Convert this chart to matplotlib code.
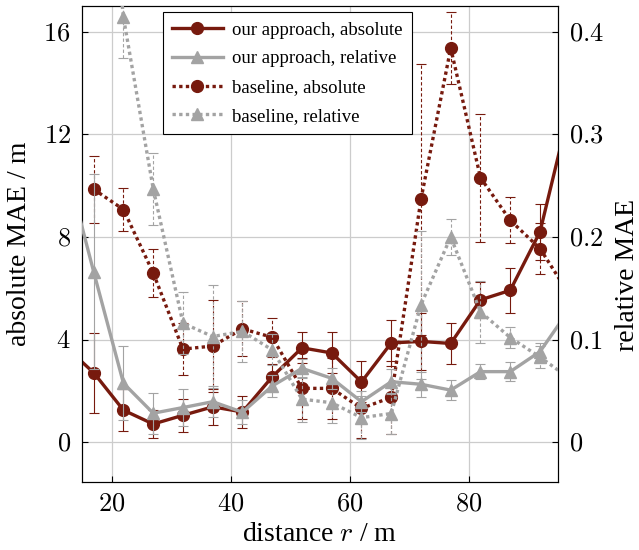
import numpy as np
import matplotlib
matplotlib.use("Agg")
import matplotlib.pyplot as plt

plt.rcParams['font.family'] = ['Liberation Serif', 'DejaVu Serif']
plt.rcParams['mathtext.fontset'] = 'cm'

# distance bins (m)
dist = [12, 17, 22, 27, 32, 37, 42, 47, 52, 57, 62, 67, 72, 77, 82, 87, 92, 97]
dist_base = dist[1:]

# our approach, absolute MAE (m) and its spread
ours_abs = [3.78, 2.71, 1.25, 0.71, 1.05, 1.38, 1.18, 2.55, 3.68, 3.48,
            2.35, 3.87, 3.93, 3.85, 5.55, 5.92, 8.2, 13.0]
ours_abs_err = [1.5, 1.56, 0.82, 0.55, 0.65, 0.7, 0.62, 0.5, 0.6, 0.8,
                0.8, 0.9, 1.1, 0.8, 0.7, 0.87, 1.1, 1.5]

# our approach, relative MAE
ours_rel = [0.278, 0.166, 0.0575, 0.0283, 0.0338, 0.0395, 0.0293, 0.0548,
            0.072, 0.0623, 0.0395, 0.059, 0.0565, 0.0508, 0.0688, 0.0688,
            0.0883, 0.13]
ours_rel_err = [0.1, 0.095, 0.036, 0.02, 0.018, 0.015, 0.012, 0.011, 0.009,
                0.01, 0.01, 0.012, 0.012, 0.01, 0.0075, 0.0095, 0.008, 0.01]

# baseline, absolute MAE (m)
base_abs = [9.86, 9.07, 6.6, 3.63, 3.75, 4.42, 4.09, 2.1, 2.1, 1.32, 1.75,
            9.47, 15.36, 10.31, 8.65, 7.55, 5.73]
base_abs_err = [1.3, 0.85, 0.95, 1.0, 1.8, 1.07, 0.75, 1.2, 1.2, 1.15, 1.43,
                5.28, 1.4, 2.5, 0.9, 1.0, 1.0]

# baseline, relative MAE
base_rel = [0.7, 0.414, 0.247, 0.116, 0.103, 0.108, 0.09, 0.042, 0.0385,
            0.024, 0.028, 0.134, 0.2, 0.127, 0.102, 0.083, 0.062]
base_rel_err = [0.1, 0.04, 0.035, 0.03, 0.05, 0.03, 0.015, 0.022, 0.02,
                0.021, 0.02, 0.072, 0.0175, 0.03, 0.01, 0.011, 0.01]

red = '#771a0e'
grey = '#a3a3a3'

fig = plt.figure(figsize=(6.39, 5.5), dpi=100)
ax = fig.add_axes([0.128, 0.1236, 0.745, 0.8654])
ax2 = ax.twinx()

ylim = (-1.55, 17.0)
ax.set_xlim(15, 95)
ax.set_ylim(*ylim)
ax2.set_ylim(ylim[0] / 40, ylim[1] / 40)

ax.grid(True, color='#cccccc', linewidth=0.9)
ax.set_axisbelow(True)


def draw(axis, x, y, err, color, solid, marker, label):
    # error bars first, then the line with markers on top
    eb = axis.errorbar(x, y, yerr=err, fmt='none', ecolor=color,
                       elinewidth=0.8, capsize=3.5, capthick=0.8, zorder=2)
    if not solid:
        for coll in eb[2]:
            coll.set_linestyle((0, (3, 2)))
    ls = '-' if solid else (0, (1, 1))
    line, = axis.plot(x, y, linestyle=ls, color=color, linewidth=2.4,
                      marker=marker, markersize=8.5, label=label, zorder=3)
    return line


l1 = draw(ax, dist, ours_abs, ours_abs_err, red, True, 'o',
          'our approach, absolute')
l2 = draw(ax2, dist, ours_rel, ours_rel_err, grey, True, '^',
          'our approach, relative')
l3 = draw(ax, dist_base, base_abs, base_abs_err, red, False, 'o',
          'baseline, absolute')
l4 = draw(ax2, dist_base, base_rel, base_rel_err, grey, False, '^',
          'baseline, relative')

ax.set_xticks([20, 40, 60, 80], labels=['$20$', '$40$', '$60$', '$80$'])
ax.set_yticks([0, 4, 8, 12, 16], labels=['$0$', '$4$', '$8$', '$12$', '$16$'])
ax2.set_yticks([0, 0.1, 0.2, 0.3, 0.4],
               labels=['$0$', '$0.1$', '$0.2$', '$0.3$', '$0.4$'])

ax.tick_params(direction='in', length=4, labelsize=19, pad=8)
ax.tick_params(axis='y', left=True, right=False)
ax2.tick_params(direction='in', length=4, labelsize=19, pad=8)

ax.set_xlabel('distance $r$ / m', fontsize=20, labelpad=5)
ax.set_ylabel('absolute MAE / m', fontsize=20, labelpad=8)
fig.text(628 / 639, 0.5, 'relative MAE',
         rotation=90, ha='center', va='center', fontsize=20)

leg = ax2.legend([l1, l2, l3, l4],
                 [h.get_label() for h in [l1, l2, l3, l4]],
                 loc='upper left', bbox_to_anchor=(0.17, 0.987),
                 borderaxespad=0, fontsize=13.5, handlelength=2.7,
                 frameon=True, fancybox=False, edgecolor='black',
                 framealpha=1, borderpad=0.5, labelspacing=0.62,
                 handletextpad=0.5)
leg.get_frame().set_linewidth(0.8)

fig.savefig('out.png', dpi=100)
